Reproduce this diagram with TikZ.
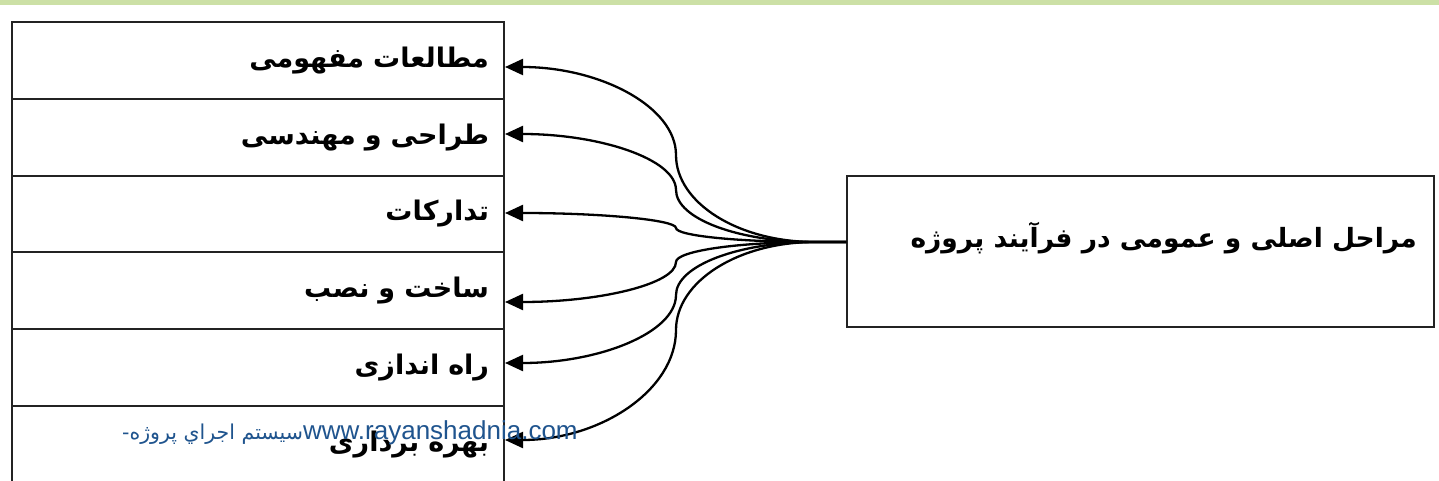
\documentclass[tikz,border=0pt]{standalone}
\usepackage{fontspec}
\usetikzlibrary{arrows.meta}
\TeXXeTstate=1
\newfontfamily\arabicfont[Script=Arabic]{DejaVu Sans}
\newfontfamily\latinsans{Liberation Sans}
\newcommand\cellfont{\arabicfont\bfseries\fontsize{27}{32}\selectfont}
\newcommand\titlefont{\arabicfont\bfseries\fontsize{26.5}{32}\selectfont}
\newcommand\markfont{\fontsize{26}{30}\selectfont}
\definecolor{bandgreen}{RGB}{204,224,166}
\definecolor{markblue}{RGB}{31,84,142}
\definecolor{rulegray}{RGB}{35,35,35}

\tikzset{
  rowbox/.style={draw=rulegray, line width=2pt, minimum width=492pt,
    minimum height=76.8pt, inner xsep=15pt, inner ysep=0pt,
    text width=462pt, align=right, font=\cellfont},
  titlebox/.style={draw=rulegray, line width=2pt, minimum width=587pt,
    minimum height=151pt, inner sep=0pt},
  titletext/.style={inner sep=0pt, font=\titlefont},
  fan/.style={draw=black, line width=2.3pt,
    -{Triangle[length=18pt,width=16pt]}},
  sitecaption/.style={inner sep=0pt, text=markblue, font=\markfont}
}

\begin{document}
\begin{tikzpicture}[x=1pt,y=-1pt]
  \useasboundingbox (0,0) rectangle (1439,481);
  \clip (0,0) rectangle (1439,481);
  \fill[white] (0,0) rectangle (1439,481);
  \fill[bandgreen] (0,0) rectangle (1439,5.5);

  % stages of the project, stacked top to bottom
  \node[rowbox] (r1) at (258,60.4)  {\beginR مطالعات مفهومی\endR};
  \node[rowbox] (r2) at (258,137.2) {\beginR طراحی و مهندسی\endR};
  \node[rowbox] (r3) at (258,214.0) {\beginR تدارکات\endR};
  \node[rowbox] (r4) at (258,290.8) {\beginR ساخت و نصب\endR};
  \node[rowbox] (r5) at (258,367.6) {\beginR راه اندازی\endR};
  \node[rowbox] (r6) at (258,444.4) {\beginR بهره برداری\endR};

  % the overall process box
  \node[titlebox] (rb) at (1140.5,251.5) {};
  \node[titletext, anchor=east] (rbt) at (1417,238)
    {\beginR مراحل اصلی و عمومی در فرآیند پروژه\endR};

  % fan of curved connectors from the process box to each stage
  \coordinate (hub) at (815,242);
  \foreach \i/\ym/\yt in {1/155/67, 2/190/134, 3/228/213,
                          4/262/302, 5/295/363, 6/330/440}{
    \pgfmathsetmacro\cu{\ym+0.55*(242-\ym)}
    \pgfmathsetmacro\cv{\ym+0.55*(\yt-\ym)}
    \draw[fan] (rb.west |- hub) -- (hub)
      .. controls (738,242) and (676,\cu) .. (676,\ym)
      .. controls (676,\cv) and (600,\yt) .. (r\i.east |- 0,\yt);
  }

  % site caption
  \node[sitecaption, anchor=west] (site) at (122,433)
    {{\arabicfont\fontsize{20.5}{26}\selectfont\beginR سيستم اجراي پروژه-\endR}{\latinsans www.rayanshadnia.com}};
\end{tikzpicture}
\end{document}
